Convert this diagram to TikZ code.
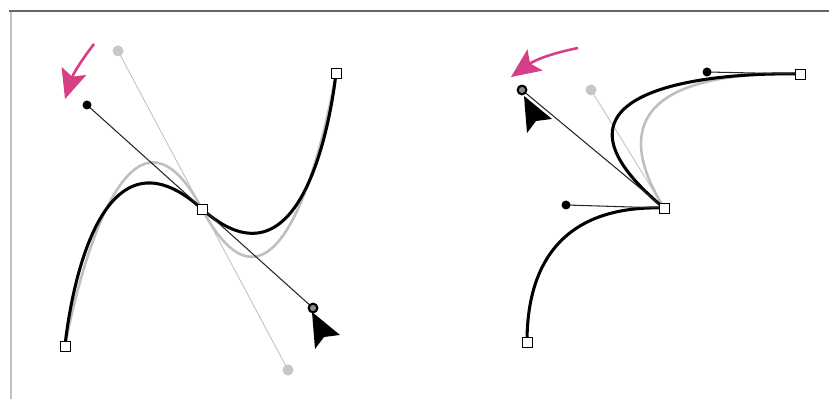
\documentclass[tikz,border=0pt]{standalone}
\usepackage{xcolor}
\usetikzlibrary{arrows.meta}

\definecolor{hotpink}{RGB}{214,62,133}

\begin{document}
\begin{tikzpicture}[
  x=0.3mm, y=-0.3mm,
  >=Latex,
  knot/.style={draw=black, fill=white, line width=0.8pt, minimum size=3mm, inner sep=0pt},
  hdot/.style={circle, fill=black, minimum size=2.7mm, inner sep=0pt},
  hring/.style={circle, draw=black, fill=black!45, line width=1.8pt, minimum size=2.6mm, inner sep=0pt},
  ghostdot/.style={circle, fill=black!22, minimum size=3.3mm, inner sep=0pt},
  newpath/.style={line width=2.6pt, black},
  oldpath/.style={line width=2.2pt, black!25},
  newhandle/.style={line width=0.9pt, black!85},
  oldhandle/.style={line width=0.7pt, black!25},
  drag/.style={-{Stealth[length=25pt, width=22pt, inset=5pt]}, line width=2.2pt, hotpink},
  cursor/.style={fill=black}
]
\useasboundingbox (0,0) rectangle (829,399);

% Frame
\draw[black!60, line width=2.5pt] (9,11) -- (829,11);
\draw[black!25, line width=1.7pt] (11,12) -- (11,399);

% Left: smooth point, handle rotated
\coordinate (la) at (65,346);
\coordinate (lm) at (202,209);
\coordinate (le) at (336,73);
\coordinate (lh1) at (87,105);
\coordinate (lh2) at (313,308);
\coordinate (lg1) at (118,51);
\coordinate (lg2) at (288,370);

\draw[oldpath] (la) .. controls (la) and (lg1) .. (lm)
  .. controls (lg2) and (le) .. (le);
\draw[oldhandle] (lg1) -- (lg2);
\draw[newpath] (la) .. controls (la) and (lh1) .. (lm)
  .. controls (lh2) and (le) .. (le);
\draw[newhandle] (lh1) -- (lh2);

\node[ghostdot] (lgd1) at (lg1) {};
\node[ghostdot] (lgd2) at (lg2) {};
\node[hdot] (lhd1) at (lh1) {};
\node[knot] (lka) at (la) {};
\node[knot] (lkm) at (lm) {};
\node[knot] (lke) at (le) {};
\node[hring] (lhd2) at (lh2) {};
\fill[cursor] (312,312) -- +(28,23) -- +(12,25) -- +(3,37) -- cycle;

% Left drag arrow
\coordinate (ldt) at (94,44);
\coordinate (ldh) at (65,99);
\draw[drag] (ldt) to[bend right=10] (ldh);

% Right: corner point, one handle dragged
\coordinate (ra) at (527,342);
\coordinate (rm) at (664,208);
\coordinate (re) at (800,74);
\coordinate (rh0) at (527,260);
\coordinate (rh1) at (566,205);
\coordinate (rh2) at (522,90);
\coordinate (rh3) at (707,72);
\coordinate (rg2) at (591,90);

\draw[oldpath] (rm) .. controls (rg2) and (rh3) .. (re);
\draw[oldhandle] (rg2) -- (rm);
\draw[newpath] (ra) .. controls (rh0) and (rh1) .. (rm)
  .. controls (rh2) and (rh3) .. (re);
\draw[newhandle] (rh1) -- (rm);
\draw[newhandle] (rh2) -- (rm);
\draw[newhandle] (rh3) -- (re);

\node[ghostdot] (rgd2) at (rg2) {};
\node[hdot] (rhd1) at (rh1) {};
\node[hdot] (rhd3) at (rh3) {};
\node[knot] (rka) at (ra) {};
\node[knot] (rkm) at (rm) {};
\node[knot] (rke) at (re) {};
\node[hring] (rhd2) at (rh2) {};
\fill[cursor] (524,96) -- +(28,23) -- +(12,25) -- +(3,37) -- cycle;

% Right drag arrow
\coordinate (rdt) at (578,48);
\coordinate (rdh) at (511,77);
\draw[drag] (rdt) to[bend right=12] (rdh);

\end{tikzpicture}
\end{document}
